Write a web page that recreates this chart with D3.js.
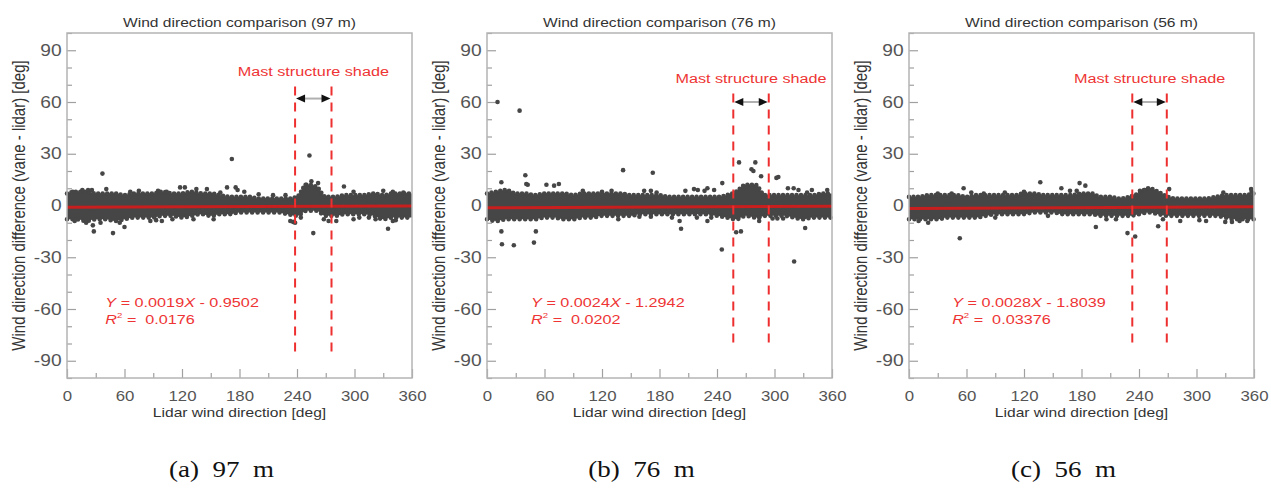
<!DOCTYPE html>
<html>
<head>
<meta charset="utf-8">
<script src="https://cdn.jsdelivr.net/npm/d3@7"></script>
<style>
  html, body { margin: 0; padding: 0; background: #fff; }
  svg { display: block; }
</style>
</head>
<body>
<svg id="chart" width="1271" height="492"></svg>
<script>
// heights of the three vane/lidar comparisons
const heights = ['97', '76', '56'];
const captions = ['(a)  97  m', '(b)  76  m', '(c)  56  m'];
const xTicks = [0, 60, 120, 180, 240, 300, 360];
const yTicks = [-90, -60, -30, 0, 30, 60, 90];

const bandX = [0, 10, 20, 30, 40, 50, 60, 70, 80, 90, 100, 110, 120, 130, 140, 150, 160, 170, 180,
  190, 200, 210, 220, 230, 240, 250, 260, 270, 280, 290, 300, 310, 320, 330, 340, 350, 360];
const bandUpper97 = [7, 8, 8, 7, 7, 7, 6, 7, 7, 7, 8, 7, 7, 8, 7, 7, 6, 5, 5,
  5, 4, 4, 4, 4, 5, 12, 11, 5, 5, 6, 6, 6, 7, 6, 7, 7, 7];
const bandLower97 = [-8, -8, -9, -8, -8, -9, -8, -7, -7, -7, -6, -6, -7, -6, -5, -6, -5, -5, -4,
  -4, -4, -4, -4, -5, -6, -3, -3, -6, -6, -5, -5, -5, -6, -8, -7, -7, -7];
const bandUpper76 = [7, 8, 9, 7, 7, 6, 7, 7, 7, 6, 7, 7, 7, 7, 7, 6, 6, 6, 6,
  5, 5, 5, 5, 5, 5, 6, 8, 12, 12, 6, 6, 6, 6, 6, 6, 7, 7];
const bandLower76 = [-8, -9, -8, -8, -8, -8, -7, -7, -8, -8, -7, -7, -6, -6, -6, -6, -5, -5, -5,
  -5, -5, -5, -5, -5, -6, -7, -8, -6, -7, -6, -6, -6, -7, -8, -7, -7, -7];
const bandUpper56 = [5, 5, 6, 6, 6, 6, 5, 6, 6, 6, 6, 6, 7, 7, 6, 6, 6, 6, 7,
  7, 5, 5, 4, 5, 7, 10, 8, 5, 4, 4, 4, 4, 5, 6, 6, 6, 7];
const bandLower56 = [-8, -8, -8, -8, -7, -7, -7, -7, -6, -5, -5, -5, -5, -4, -4, -4, -5, -5, -5,
  -5, -6, -6, -6, -6, -5, -4, -5, -6, -6, -6, -6, -6, -6, -7, -8, -8, -8];

// scattered points outside the band [lidar dir, difference]
const outliers97 = [[37, 18.5], [172, 27], [253, 29], [257, -16], [48, -16], [28, -15], [335, -13.5],
  [60, -12.5], [27, -11.5], [16, 9], [22, 9], [26, 9], [41, 9.5], [118, 10.5], [123, 10.5], [167, 10.5],
  [176, 10.5], [135, 9.5], [146, 9.5], [289, 11], [299, 8], [351, 7.5], [87, -9], [93, -8.5], [99, -9],
  [110, -8], [132, -8], [153, -8], [233, -9], [236, -9.5], [238, -10], [273, -9], [281, -9], [299, -8],
  [340, -9], [343, -8.5], [8, -9], [20, -10], [249, 12], [255, 14], [262, 13], [247, 10], [178, 9],
  [185, 8], [200, 6.5], [215, 6], [228, 6], [244, -7], [305, -7], [315, -7], [322, -8], [330, 8.5],
  [340, 8], [6, 8], [66, 8], [75, 8.5], [95, 8.5], [104, 8], [160, 7.5], [268, -8], [35, -10], [55, -10]];
const outliers76 = [[11, 60], [34, 55], [40, 17.5], [42.5, 12], [142, 20.5], [173, 19], [263, 25],
  [280, 25], [276, 21], [278, 20], [302, 16], [304, 16.5], [245.5, 13], [62, 12], [70, 11.5], [75, 12.5],
  [15, 13.5], [41, 12.5], [15, -15], [15.6, -22.5], [28, -23], [49, -21.5], [51, -15], [137, -8],
  [159, -6.5], [171, -6.5], [193, -7], [201, -9], [202.5, -13.5], [219, -7], [230, -9], [234, -7],
  [245, -25.5], [260, -15.5], [265, -15], [284, -9], [284, -7], [298, -7.5], [303, -7.5], [309, -7.5],
  [320.5, -32.5], [332, -13], [314, 10], [320, 10], [325, 9], [339, 9], [334, 7.5], [207, 8.5],
  [216, 9.5], [220, 9], [227, 8.5], [230, 10], [237, 9], [164, 8.5], [171, 8.5], [177, 7.5], [286, 17],
  [100, 8.5], [120, 8], [130, 8.5], [355, 9]];
const outliers56 = [[53, -19], [137, 13.5], [178, 13], [184, 11.5], [57, 10], [159, 10], [44.5, 7],
  [195, -12.5], [228, -16], [236, -18], [260, -12], [271.5, 9.5], [357.5, 8], [357, 9.5], [20, -10],
  [206, -8], [216, -8], [283, -9], [303, -8.5], [310, -9], [330, -9.5], [337, -9.5], [353, -9],
  [241, 8.5], [246, 9], [168, 8.5], [175, 8.5], [65, 7.5], [78, 7], [328, 7.5], [120, 8], [100, 7.5],
  [30, 7], [10, -9], [90, -7], [145, -6], [265, -8], [345, -9]];

// fitted lines printed on each panel
const slopes = [0.0019, 0.0024, 0.0028];
const intercepts = [-0.9502, -1.2942, -1.8039];
const slopeLabels = ['0.0019', '0.0024', '0.0028'];
const interceptLabels = ['0.9502', '1.2942', '1.8039'];
const rSquared = ['0.0176', '0.0202', '0.03376'];

// mast structure shade sector
const shadeFrom = [238, 257, 233];
const shadeTo = [276, 294, 269];
const shadeTop = [69, 65, 65];
const shadeBottom = [-88, -80, -80];
const arrowY = [62, 60, 60];

const bandUpper = [bandUpper97, bandUpper76, bandUpper56];
const bandLower = [bandLower97, bandLower76, bandLower56];
const outliers = [outliers97, outliers76, outliers56];

const svg = d3.select('#chart');
const SX = 1.2; // the picture is stretched sideways a little
const FONT = '"Liberation Sans", Arial, sans-serif';
const DOT = '#464646';
const panelLeft = [67, 487, 909];
const W = 345, plotTop = 33, plotBottom = 378;

const y = d3.scaleLinear().domain([-100, 100]).range([plotBottom, plotTop]);

function label(g, px, py, str, size, color, anchor) {
  return g.append('text')
    .attr('transform', 'translate(' + px + ',' + py + ') scale(' + SX + ',1)')
    .attr('text-anchor', anchor || 'middle')
    .attr('font-family', FONT)
    .attr('font-size', size)
    .attr('fill', color)
    .style('white-space', 'pre')
    .text(str);
}

heights.forEach(function(h, i) {
  const left = panelLeft[i];
  const x = d3.scaleLinear().domain([0, 360]).range([left, left + W]);
  const g = svg.append('g');
  const mid = left + W / 2;

  // minor ticks
  g.append('g').attr('transform', 'translate(0,' + plotBottom + ')')
    .call(d3.axisBottom(x).tickValues([30, 90, 150, 210, 270, 330]).tickSize(-5).tickFormat(''))
    .call(a => a.select('.domain').remove());
  g.append('g').attr('transform', 'translate(' + left + ',0)')
    .call(d3.axisLeft(y).tickValues(d3.range(-100, 101, 10).filter(v => v % 30 !== 0)).tickSize(-5).tickFormat(''))
    .call(a => a.select('.domain').remove());

  // major ticks + labels (plain hyphen for negatives, as in the figure)
  g.append('g').attr('transform', 'translate(0,' + plotBottom + ')')
    .call(d3.axisBottom(x).tickValues(xTicks).tickSize(-9).tickPadding(13).tickFormat(d => String(d)))
    .call(a => a.select('.domain').remove())
    .call(a => a.selectAll('text').attr('transform', 'scale(' + SX + ',1)')
      .attr('font-family', FONT).attr('font-size', 14).attr('fill', '#555'));
  g.append('g').attr('transform', 'translate(' + left + ',0)')
    .call(d3.axisLeft(y).tickValues(yTicks).tickSize(-9).tickPadding(4.5).tickFormat(d => String(d)))
    .call(a => a.select('.domain').remove())
    .call(a => a.selectAll('text').attr('transform', 'scale(' + SX + ',1)')
      .attr('font-family', FONT).attr('font-size', 16).attr('fill', '#555'));
  g.selectAll('.tick line').attr('stroke', '#a0a0a0').attr('stroke-width', 1.2);

  // band of points: filled envelope, its edge drawn as a row of dots
  const band = bandX.map((v, k) => ({ x: v, hi: bandUpper[i][k], lo: bandLower[i][k] }));
  const area = d3.area().x(d => x(d.x)).y0(d => y(d.lo)).y1(d => y(d.hi)).curve(d3.curveMonotoneX);
  g.append('path')
    .datum(band)
    .attr('d', area)
    .attr('fill', DOT);
  [area.lineY1(), area.lineY0()].forEach(function(edge, k) {
    g.append('path')
      .datum(band)
      .attr('d', edge)
      .attr('fill', 'none')
      .attr('stroke', DOT)
      .attr('stroke-width', 4.6)
      .attr('stroke-linecap', 'round')
      .attr('stroke-dasharray', k ? '0,5.5' : '0,4.5');
  });

  g.selectAll('circle.pt')
    .data(outliers[i])
    .enter()
    .append('circle')
    .attr('class', 'pt')
    .attr('cx', d => x(d[0]))
    .attr('cy', d => y(d[1]))
    .attr('r', 2.3)
    .attr('fill', DOT);

  // fitted line
  g.append('line')
    .attr('x1', x(0)).attr('x2', x(360))
    .attr('y1', y(intercepts[i])).attr('y2', y(slopes[i] * 360 + intercepts[i]))
    .attr('stroke', '#c81e1e')
    .attr('stroke-width', 3);

  // frame
  g.append('rect')
    .attr('x', left).attr('y', plotTop).attr('width', W).attr('height', plotBottom - plotTop)
    .attr('fill', 'none').attr('stroke', '#b4b4b4').attr('stroke-width', 1.5);

  // shade sector
  [shadeFrom[i], shadeTo[i]].forEach(function(v) {
    g.append('line')
      .attr('x1', x(v)).attr('x2', x(v))
      .attr('y1', y(shadeTop[i])).attr('y2', y(shadeBottom[i]))
      .attr('stroke', '#ee2f2f')
      .attr('stroke-width', 2)
      .attr('stroke-dasharray', '9,7');
  });
  const ax0 = x(shadeFrom[i]) + 1, ax1 = x(shadeTo[i]) - 1, ay = y(arrowY[i]);
  g.append('line')
    .attr('x1', ax0 + 8).attr('x2', ax1 - 8).attr('y1', ay).attr('y2', ay)
    .attr('stroke', '#b0b0b0').attr('stroke-width', 2);
  g.append('path')
    .attr('d', 'M' + ax0 + ',' + ay + 'L' + (ax0 + 9) + ',' + (ay - 4) + 'L' + (ax0 + 9) + ',' + (ay + 4) + 'Z')
    .attr('fill', '#111');
  g.append('path')
    .attr('d', 'M' + ax1 + ',' + ay + 'L' + (ax1 - 9) + ',' + (ay - 4) + 'L' + (ax1 - 9) + ',' + (ay + 4) + 'Z')
    .attr('fill', '#111');
  label(g, (x(shadeFrom[i]) + x(shadeTo[i])) / 2, y(shadeTop[i]) - 10, 'Mast structure shade', 13.5, '#ee3434');

  // equation
  const eqX = x([40, 46, 45][i]);
  const eq = label(g, eqX, y(-59), '', 13.5, '#ee3434', 'start');
  eq.append('tspan').attr('font-style', 'italic').text('Y');
  eq.append('tspan').text(' = ' + slopeLabels[i]);
  eq.append('tspan').attr('font-style', 'italic').text('X');
  eq.append('tspan').text(' - ' + interceptLabels[i]);
  const r2 = label(g, eqX, y(-59) + 17, '', 13.5, '#ee3434', 'start');
  r2.append('tspan').attr('font-style', 'italic').text('R');
  r2.append('tspan').attr('font-size', 8).attr('dy', -6).text('2');
  r2.append('tspan').attr('dy', 6).text(' =\u00a0\u00a0' + rSquared[i]);

  // titles and axis names
  label(g, mid, 27, 'Wind direction comparison (' + h + ' m)', 13, '#333');
  label(g, mid, 417, 'Lidar wind direction [deg]', 13, '#333');
  g.append('text')
    .attr('transform', 'translate(' + (left - 42) + ',' + ((plotTop + plotBottom) / 2) + ') scale(' + SX + ',1) rotate(-90)')
    .attr('text-anchor', 'middle')
    .attr('font-family', FONT)
    .attr('font-size', 15)
    .attr('fill', '#333')
    .text('Wind direction difference (vane - lidar) [deg]');

  // caption under the panel
  svg.append('text')
    .attr('transform', 'translate(' + (mid - 18) + ',477) scale(' + SX + ',1)')
    .attr('text-anchor', 'middle')
    .attr('font-family', '"Liberation Serif", "Times New Roman", serif')
    .attr('font-size', 22.5)
    .attr('fill', '#111')
    .style('white-space', 'pre')
    .text(captions[i].replace(/ /g, '\u00a0'));
});
</script>
</body>
</html>
